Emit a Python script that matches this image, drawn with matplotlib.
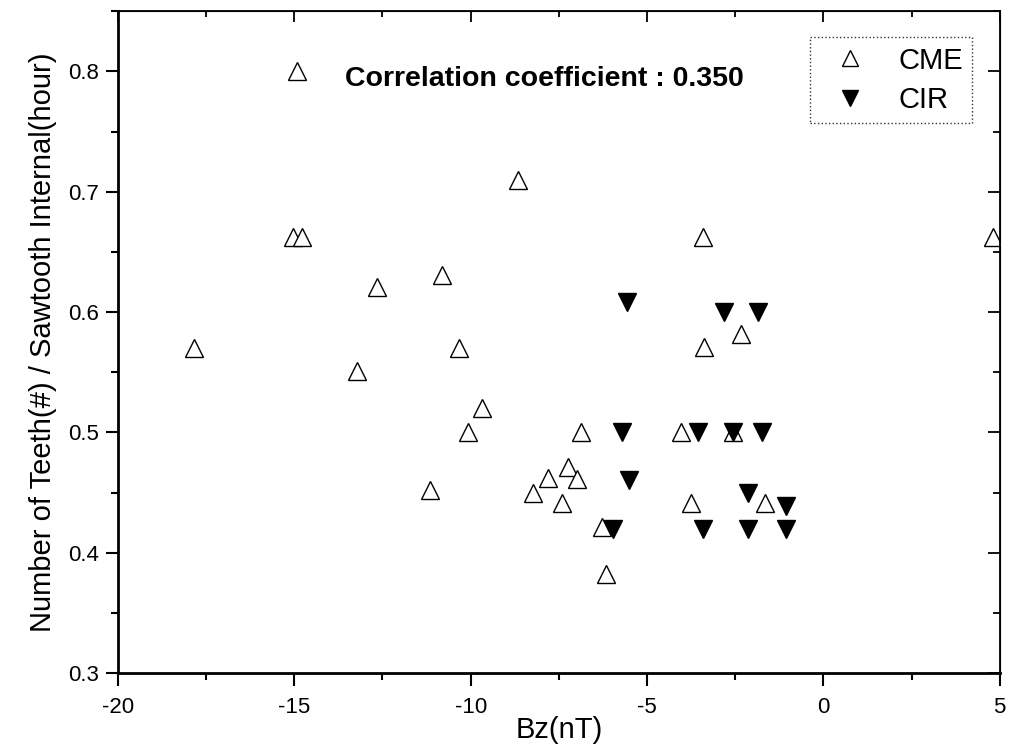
import numpy as np
import matplotlib
matplotlib.use('Agg')
import matplotlib.pyplot as plt
from matplotlib.ticker import MultipleLocator

plt.rcParams['font.family'] = ['Liberation Sans', 'DejaVu Sans']
plt.rcParams['axes.unicode_minus'] = False

# CME events: Bz (nT) vs teeth / sawtooth interval
cme_bz = [-14.93, -8.66, -15.04, -14.78, -10.82, -12.66, -17.85, -10.33, -13.23,
          -9.68, -10.08, -11.16, -8.24, -7.81, -7.41, -7.24, -6.99, -6.88,
          -6.17, -6.28, -4.04, -3.76, -3.42, -3.39, -2.34, -2.57, -1.66, 4.8]
cme_rate = [0.80, 0.71, 0.662, 0.662, 0.631, 0.621, 0.57, 0.57, 0.551,
            0.52, 0.50, 0.452, 0.45, 0.462, 0.441, 0.471, 0.461, 0.50,
            0.382, 0.421, 0.50, 0.441, 0.662, 0.571, 0.582, 0.50, 0.441, 0.662]

# CIR events
cir_bz = [-5.57, -5.71, -5.52, -5.97, -3.56, -3.42, -2.82, -1.85,
          -2.57, -1.75, -2.14, -2.14, -1.07, -1.07]
cir_rate = [0.608, 0.50, 0.46, 0.42, 0.50, 0.42, 0.60, 0.60,
            0.50, 0.50, 0.45, 0.42, 0.439, 0.42]

corr_text = 'Correlation coefficient : 0.350'

fig = plt.figure(figsize=(10.17, 7.49), dpi=100)
ax = fig.add_axes([0.116, 0.1015, 0.867, 0.8835])

ax.plot(cme_bz, cme_rate, linestyle='none', marker='^', markersize=13,
        markerfacecolor='white', markeredgecolor='black', markeredgewidth=1.0,
        label='CME')
ax.plot(cir_bz, cir_rate, linestyle='none', marker='v', markersize=13,
        markerfacecolor='black', markeredgecolor='black', label='CIR')

ax.set_xlim(-20, 5)
ax.set_ylim(0.3, 0.85)
ax.xaxis.set_major_locator(MultipleLocator(5))
ax.xaxis.set_minor_locator(MultipleLocator(2.5))
ax.yaxis.set_minor_locator(MultipleLocator(0.05))
ax.set_yticks(np.arange(0.3, 0.81, 0.1))
ax.set_yticklabels(['0.3', '0.4', '0.5', '0.6', '0.7', '0.8'])

ax.tick_params(which='both', direction='out', top=False, right=False,
               labelsize=16, width=1.5)
ax.tick_params(which='major', length=9)
ax.tick_params(which='minor', length=5)
ax.tick_params(axis='x', which='major', pad=8)
ax.tick_params(axis='y', which='major', pad=5)

# inward ticks on the top and right edges
ax_top = ax.secondary_xaxis('top')
ax_top.xaxis.set_major_locator(MultipleLocator(5))
ax_top.xaxis.set_minor_locator(MultipleLocator(2.5))
ax_top.tick_params(which='both', direction='in', width=1.3, labeltop=False)
ax_top.tick_params(which='major', length=8)
ax_top.tick_params(which='minor', length=4.5)
ax_right = ax.secondary_yaxis('right')
ax_right.yaxis.set_major_locator(MultipleLocator(0.1))
ax_right.yaxis.set_minor_locator(MultipleLocator(0.05))
ax_right.tick_params(which='both', direction='in', width=1.3, labelright=False)
ax_right.tick_params(which='major', length=8.5)
ax_right.tick_params(which='minor', length=5)

for s in ['left', 'bottom']:
    ax.spines[s].set_linewidth(2)
for s in ['top', 'right']:
    ax.spines[s].set_linewidth(1.3)

ax.set_xlabel('Bz(nT)', fontsize=21, labelpad=-1)
ax.set_ylabel('Number of Teeth(#) / Sawtooth Internal(hour)', fontsize=21,
              labelpad=8)

ax.text(-7.9, 0.794, corr_text, fontsize=20.5, fontweight='bold',
        ha='center', va='center')

leg = ax.legend(loc='upper right', bbox_to_anchor=(0.969, 0.961), fontsize=21,
                frameon=True, fancybox=False, handletextpad=0.6,
                borderpad=0.33, labelspacing=0.38, markerscale=0.9,
                handlelength=2.1, borderaxespad=0)
leg.get_frame().set_edgecolor('black')
leg.get_frame().set_linestyle(':')
leg.get_frame().set_linewidth(1.0)

fig.savefig('out.png', dpi=100)
